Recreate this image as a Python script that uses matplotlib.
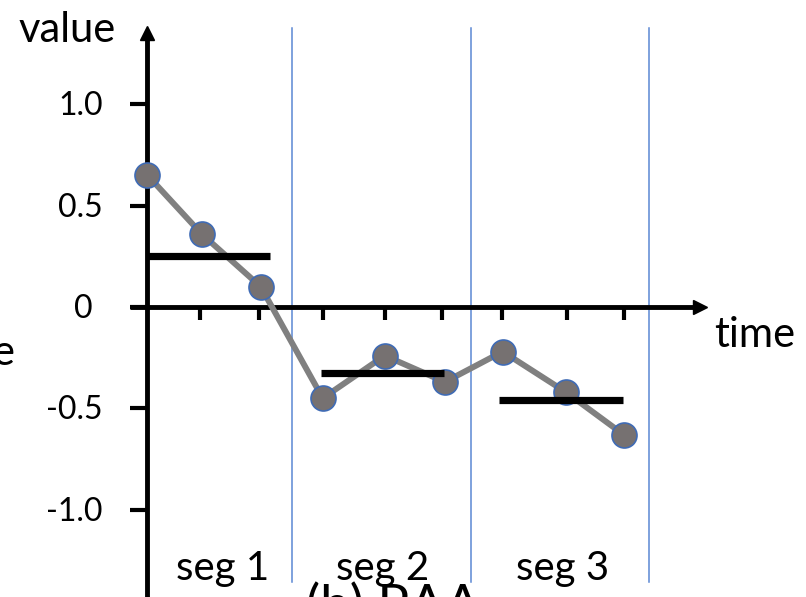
import matplotlib
matplotlib.use("Agg")
import matplotlib.pyplot as plt

# ---- data ----
times = [0.0, 0.91, 1.90, 2.94, 3.98, 4.99, 5.96, 7.02, 7.99]
values = [0.65, 0.36, 0.10, -0.45, -0.24, -0.37, -0.22, -0.42, -0.63]
paa_values = [0.25, -0.325, -0.46]
paa_start = [0.0, 2.91, 5.90]
paa_end = [2.05, 4.97, 7.98]
seg_bounds = [2.42, 5.42, 8.42]
seg_labels = ["seg 1", "seg 2", "seg 3"]
ytick_vals = [1.0, 0.5, 0.0, -0.5, -1.0]
ytick_labels = ["1.0", "0.5", "0", "-0.5", "-1.0"]
xtick_vals = [0.88, 1.87, 2.94, 3.98, 4.94, 5.95, 7.04, 7.99]

W, H = 806, 597
X0, XS = 147.5, 59.6      # pixel x of t=0, pixels per time unit
Y0, YS = 307.0, 202.7     # pixel y of value 0, pixels per unit


def X(px):
    return (px - X0) / XS


def Y(py):
    return (Y0 - py) / YS


plt.rcParams['font.family'] = ['Lato', 'DejaVu Sans']

fig = plt.figure(figsize=(W / 100, H / 100), dpi=100)
ax = fig.add_axes([0, 0, 1, 1])
ax.set_xlim(X(0), X(W))
ax.set_ylim(Y(H), Y(0))
ax.axis('off')

# segment boundaries
for b in seg_bounds:
    ax.plot([b, b], [Y(582), Y(28)], color='#5B87D3', lw=1.1, zorder=1)

# axes
ax.plot([0, 0], [Y(H + 5), Y(36)], color='black', lw=3.5, solid_capstyle='butt', zorder=3)
ax.plot([0], [Y(33)], marker='^', ms=10, color='black', zorder=3)
ax.plot([X(130), X(697)], [0, 0], color='black', lw=3.5, solid_capstyle='butt', zorder=3)
ax.plot([X(700)], [0], marker='>', ms=10, color='black', zorder=3)

for v in ytick_vals:
    ax.plot([X(130), 0], [v, v], color='black', lw=3, solid_capstyle='butt', zorder=3)
for t in xtick_vals:
    ax.plot([t, t], [0, Y(320)], color='black', lw=3, solid_capstyle='butt', zorder=3)

# tick labels
for v, lab in zip(ytick_vals, ytick_labels):
    if lab == "0":
        ax.text(X(83), v - 11 / YS, lab, ha='center', va='baseline', fontsize=23)
    else:
        ax.text(X(103), v - 11 / YS, lab, ha='right', va='baseline', fontsize=23)

# series
ax.plot(times, values, color='#808080', lw=4.3, zorder=4,
        marker='o', ms=18, markerfacecolor='#767171',
        markeredgecolor='#3F6BB5', markeredgewidth=1.2)

# PAA bars
for s, e, v in zip(paa_start, paa_end, paa_values):
    ax.plot([s, e], [v, v], color='black', lw=5.2, solid_capstyle='butt', zorder=5)

# labels
ax.text(X(67), Y(42), "value", ha='center', va='baseline', fontsize=30)
ax.text(X(755), Y(347), "time", ha='center', va='baseline', fontsize=30)
for c, lab in zip([223, 383, 563], seg_labels):
    ax.text(X(c), Y(580), lab, ha='center', va='baseline', fontsize=29)
ax.text(X(393), Y(583), "(b) PAA", ha='center', va='top', fontsize=38)
ax.text(X(14), Y(365), "e", ha='right', va='baseline', fontsize=30)

fig.savefig("out.png", dpi=100)
